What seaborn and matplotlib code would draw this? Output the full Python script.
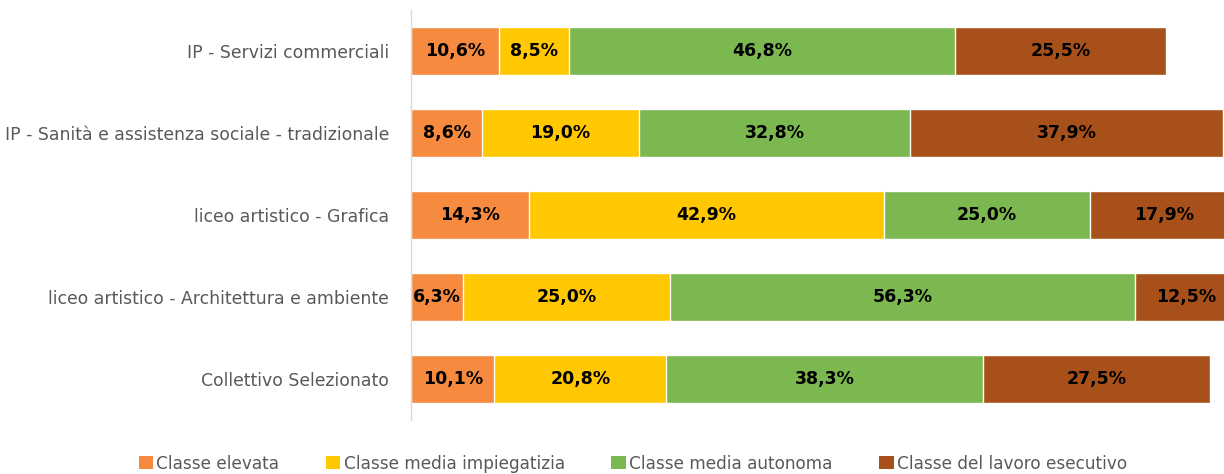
import matplotlib
matplotlib.use("Agg")
import matplotlib.pyplot as plt
import seaborn as sns
import pandas as pd
import numpy as np
from matplotlib.patches import Patch

categories = [
    "IP - Servizi commerciali",
    "IP - Sanità e assistenza sociale - tradizionale",
    "liceo artistico - Grafica",
    "liceo artistico - Architettura e ambiente",
    "Collettivo Selezionato",
]
series_names = [
    "Classe elevata",
    "Classe media impiegatizia",
    "Classe media autonoma",
    "Classe del lavoro esecutivo",
]
classe_elevata = [10.6, 8.6, 14.3, 6.3, 10.1]
classe_media_impiegatizia = [8.5, 19.0, 42.9, 25.0, 20.8]
classe_media_autonoma = [46.8, 32.8, 25.0, 56.3, 38.3]
classe_lavoro_esecutivo = [25.5, 37.9, 17.9, 12.5, 27.5]

colors = ["#F68A3E", "#FFC800", "#7BB84F", "#A8501A"]

series = [classe_elevata, classe_media_impiegatizia, classe_media_autonoma, classe_lavoro_esecutivo]

sns.set_theme(style="white")
plt.rcParams["font.family"] = ["DejaVu Sans"]

fig = plt.figure(figsize=(12.24, 4.74), dpi=100)
ax = fig.add_axes([411 / 1224, 1 - 420 / 474, 1 - 411 / 1224, 410 / 474])

vals = np.array(series)  # shape (4, 5)
cum = np.cumsum(vals, axis=0)
starts = cum - vals

# draw from largest cumulative to smallest so each segment shows
for i in range(len(series) - 1, -1, -1):
    df = pd.DataFrame({"cat": categories, "v": cum[i]})
    sns.barplot(data=df, y="cat", x="v", orient="h", color=colors[i],
                saturation=1, width=0.59, ax=ax, order=categories)

for i in range(len(series)):
    for j, cat in enumerate(categories):
        v = vals[i, j]
        mid = starts[i, j] + v / 2
        ax.text(mid, j, f"{v:.1f}".replace(".", ",") + "%", ha="center", va="center",
                fontsize=12.5, fontweight="bold", color="black")

ax.set_xlim(0, 98.4)
ax.set_ylim(4.5, -0.5)
ax.set_xlabel("")
ax.set_ylabel("")
ax.set_xticks([])
for s in ["top", "right", "bottom"]:
    ax.spines[s].set_visible(False)
ax.spines["left"].set_color("#D9D9D9")
ax.spines["left"].set_linewidth(1)
ax.tick_params(axis="y", length=0, pad=16, labelsize=12.4, labelcolor="#595959")

handles = [Patch(facecolor=c, edgecolor="none") for c in colors]
fig.legend(handles, series_names, loc="center", bbox_to_anchor=(0.517, 0.022),
           ncol=4, frameon=False, fontsize=12.2, labelcolor="#595959",
           handlelength=0.85, handleheight=0.85, handletextpad=0.2, columnspacing=2.75)

fig.savefig("out.png", dpi=100)
